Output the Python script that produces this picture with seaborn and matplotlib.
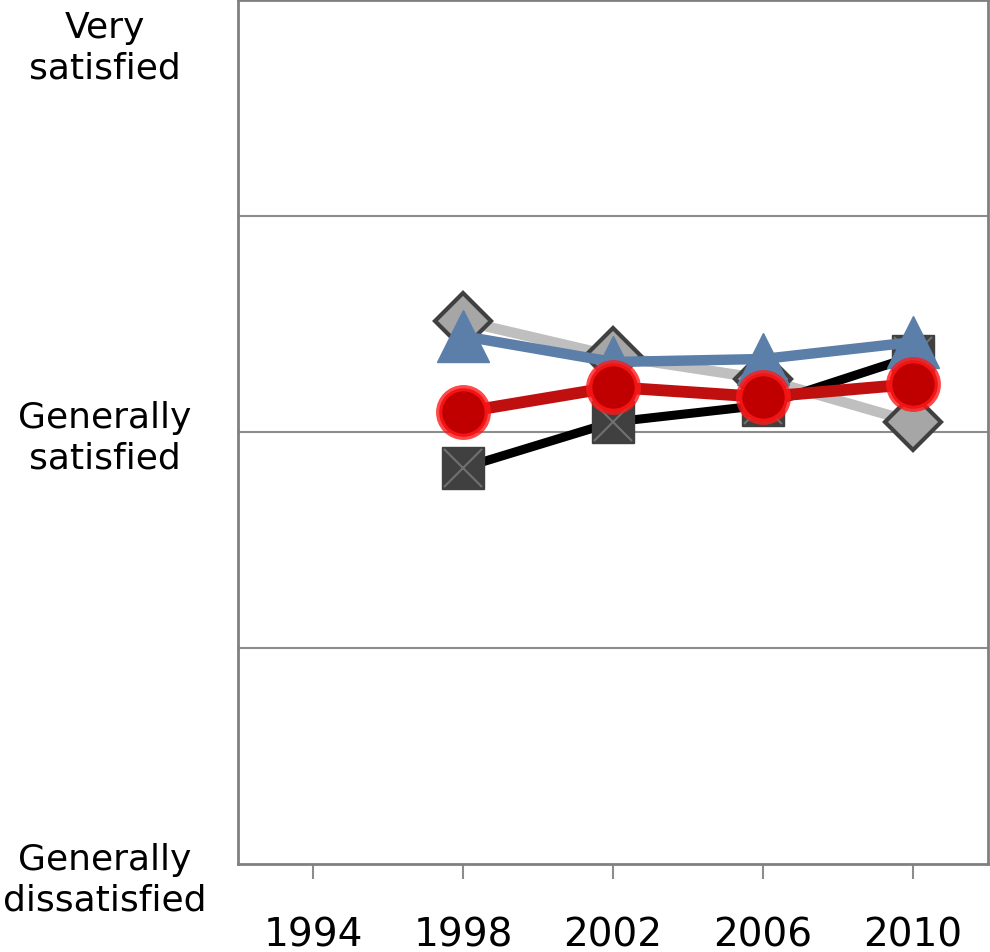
import matplotlib
matplotlib.use("Agg")
import matplotlib.pyplot as plt
import seaborn as sns
import pandas as pd

# Survey years (categories on the x axis)
years = ["1994", "1998", "2002", "2006", "2010"]

# Satisfaction scores (1 = generally dissatisfied, 2 = generally satisfied, 3 = very satisfied)
gray_vals = [None, 2.257, 2.176, 2.123, 2.023]
black_vals = [None, 1.917, 2.023, 2.062, 2.175]
blue_vals = [None, 2.222, 2.162, 2.169, 2.208]
red_vals = [None, 2.046, 2.104, 2.081, 2.111]

y_labels = ["Generally\ndissatisfied", "Generally\nsatisfied", "Very\nsatisfied"]

sns.set_style("white")
plt.rcParams['font.family'] = ['DejaVu Sans']
plt.rcParams['text.color'] = 'black'

fig = plt.figure(figsize=(9.9, 9.53), dpi=100)
ax = fig.add_axes([238 / 990, 1 - 865 / 953, 750 / 990, 864 / 953])

pos = list(range(len(years)))


def frame(vals):
    return pd.DataFrame({"x": pos, "y": vals}).dropna()


# gray diamonds
d = frame(gray_vals)
sns.lineplot(data=d, x="x", y="y", ax=ax, color="#BFBFBF", lw=7.5, zorder=3,
             marker="D", markersize=29, markerfacecolor="#A6A6A6",
             markeredgecolor="#404040", markeredgewidth=3)

# black squares
d = frame(black_vals)
sns.lineplot(data=d, x="x", y="y", ax=ax, color="black", lw=6.5, zorder=4,
             marker="s", markersize=30, markerfacecolor="#404040",
             markeredgecolor="#404040", markeredgewidth=1)
ax.plot(d["x"], d["y"], ls="none", marker="x", markersize=28,
        color="#707070", markeredgewidth=1.5, zorder=4)

# blue triangles
d = frame(blue_vals)
sns.lineplot(data=d, x="x", y="y", ax=ax, color="#5B7FA8", lw=7.5, zorder=5,
             marker="^", markersize=38, markerfacecolor="#5B7FA8",
             markeredgecolor="#5B7FA8", markeredgewidth=1)

# red circles
d = frame(red_vals)
sns.lineplot(data=d, x="x", y="y", ax=ax, color="#C00F0F", lw=8.5, zorder=6,
             marker="o", markersize=35, markerfacecolor="#C00000",
             markeredgecolor=(1, 0.1, 0.1, 0.8), markeredgewidth=4.5)

ax.set_xlim(-0.5, len(years) - 0.5)
ax.set_ylim(1, 3)
ax.set_xticks(pos)
ax.set_xticklabels(years, fontsize=28, color="black")
ax.tick_params(axis="x", direction="out", length=11, width=1.5, color="#8C8C8C",
               bottom=True, pad=26)
ax.set_yticks([1.5, 2, 2.5])
ax.set_yticklabels([])
ax.tick_params(axis="y", length=0)
ax.grid(axis="y", color="#8C8C8C", lw=1.5)
ax.grid(axis="x", visible=False)
ax.set_xlabel("")
ax.set_ylabel("")
for s in ax.spines.values():
    s.set_color("#808080")
    s.set_linewidth(2)

# y category labels
label_pos = [(105 / 990, 1 - 880 / 953), (105 / 990, 1 - 438 / 953), (105 / 990, 1 - 48 / 953)]
for (lx, ly), txt in zip(label_pos, y_labels):
    fig.text(lx, ly, txt, ha="center", va="center", fontsize=26,
             linespacing=1.25, color="black")

fig.savefig("out.png", dpi=100)
